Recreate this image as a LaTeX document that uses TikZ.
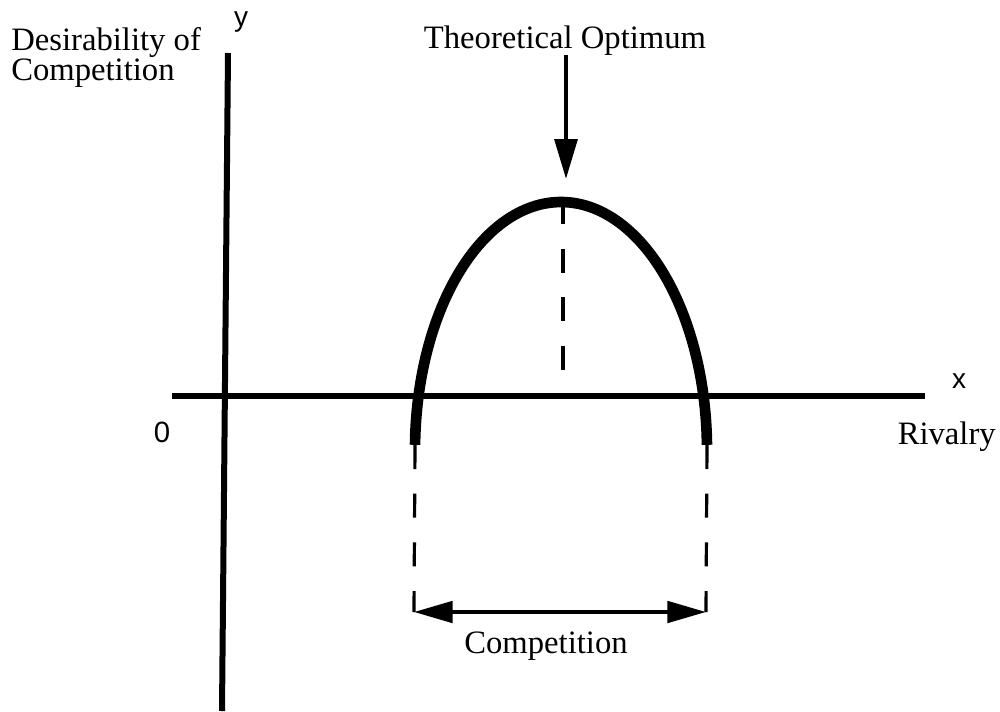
\documentclass[tikz,border=0pt]{standalone}
\usepackage{fontspec}
\setmainfont{Liberation Serif}
\newfontfamily\labsans{Liberation Sans}
\usetikzlibrary{arrows.meta}
\begin{document}
\begin{tikzpicture}[x=0.75pt,y=-0.75pt,
  axis/.style={line width=4.5pt},
  curve/.style={line width=8pt},
  guide/.style={line width=2.4pt,dash pattern=on 18pt off 18.5pt},
  bigarrow/.style={line width=3.2pt,-{Triangle[length=30pt,width=17pt]}},
  dimarrow/.style={line width=3pt,{Triangle[length=29pt,width=16pt]}-{Triangle[length=29pt,width=16pt]}},
  serif/.style={inner sep=0pt,font=\fontsize{24.5}{27}\selectfont},
  sans/.style={inner sep=0pt,font=\labsans\fontsize{21}{24}\selectfont}]
\useasboundingbox (0,0) rectangle (1000,711);
% axes
\coordinate (yt) at (228,53);
\coordinate (yb) at (222,711);
\coordinate (xl) at (172,396);
\coordinate (xr) at (925,396);
\draw[axis] (yt) -- (yb);
\draw[axis] (xl) -- (xr);
% curve
\coordinate (cl) at (415,445);
\coordinate (cr) at (707,445);
\coordinate (peak) at (563,202);
\draw[curve] plot[domain=1.2:178.8,samples=120,smooth] ({561-146*cos(\x)},{450-248*sin(\x)});
% guides
\coordinate (bl) at (414,612);
\coordinate (br) at (706,612);
\coordinate (mid) at (563,372);
\draw[guide] (cl) -- (bl);
\draw[guide] (cr) -- (br);
\draw[guide] (563,200) -- (mid);
% arrows
\coordinate (at) at (566,55);
\coordinate (ah) at (566,179);
\draw[bigarrow] (at) -- (ah);
\draw[dimarrow] (bl) -- (br);
% labels
\node[serif,anchor=base west] (des) at (11,50) {Desirability of};
\node[serif,anchor=base west] (comp) at (11,80) {Competition};
\node[serif,anchor=base] (opt) at (565,48) {Theoretical Optimum};
\node[serif,anchor=base] (cmp) at (546,653) {Competition};
\node[serif,anchor=base east] (riv) at (996,444) {Rivalry};
\node[sans,anchor=base] (ylab) at (241,26) {y};
\node[sans,anchor=base] (xlab) at (959,388) {x};
\node[sans,anchor=base,font=\labsans\fontsize{22}{24}\selectfont] (zero) at (162,442) {0};
\end{tikzpicture}
\end{document}
